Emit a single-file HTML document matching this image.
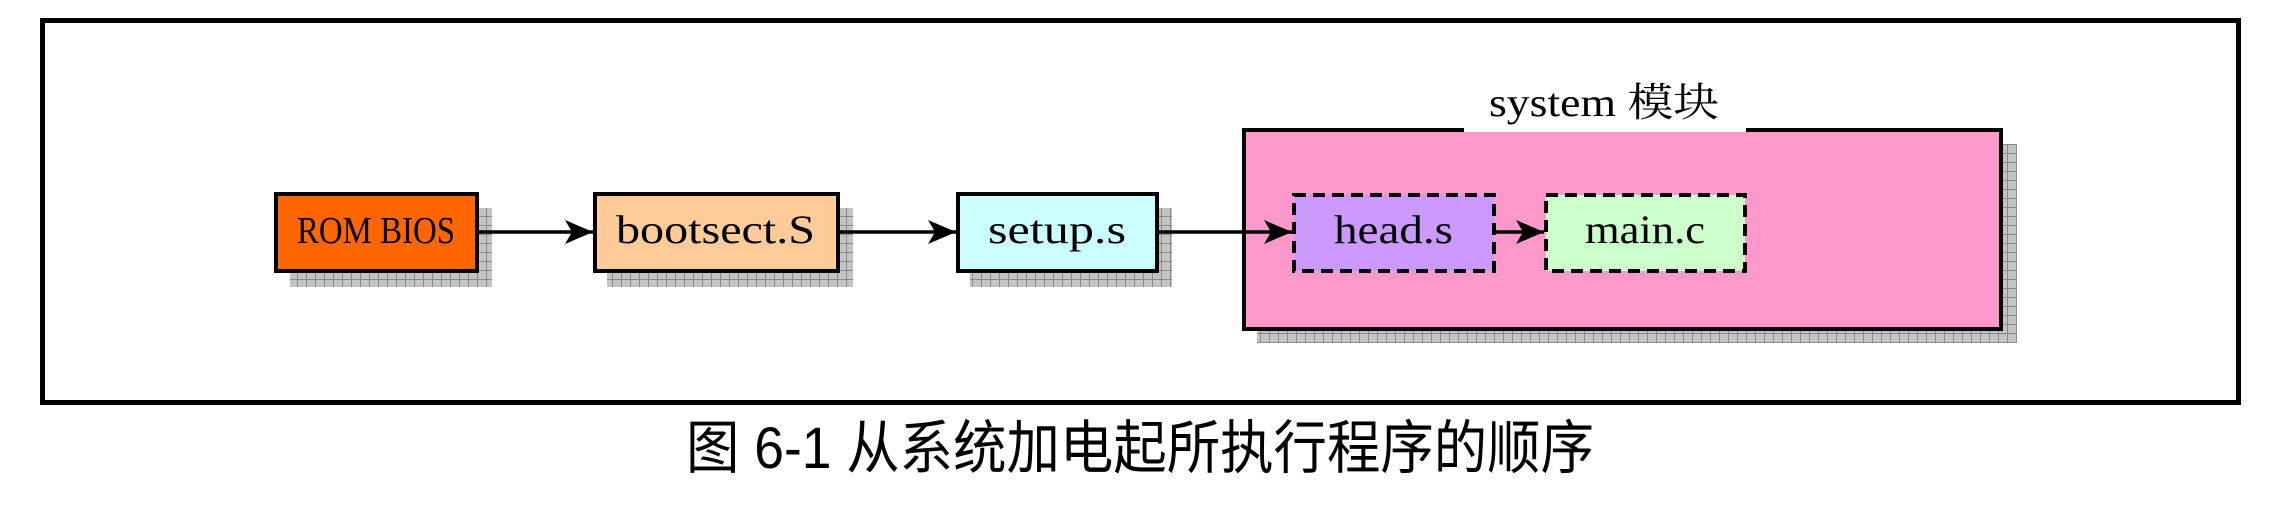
<!DOCTYPE html>
<html><head><meta charset="utf-8"><style>html,body{margin:0;padding:0;background:#fff;width:2290px;height:511px;overflow:hidden}</style></head>
<body>
<svg width="2290" height="511" xmlns="http://www.w3.org/2000/svg">
<defs>
<pattern id="sh" width="9" height="9" patternUnits="userSpaceOnUse">
<rect width="9" height="9" fill="#c4c4c4"/><path d="M0 0.5H9M0.5 0V9" stroke="#8a8a8a" stroke-width="1"/>
</pattern>
<marker id="ar" markerWidth="30" markerHeight="24" refX="28" refY="12" orient="auto" markerUnits="userSpaceOnUse">
<path d="M0 0 L28 12 L0 24 L7 12 Z" fill="#000"/>
</marker>
</defs>
<rect x="42.5" y="20.5" width="2196" height="382" fill="#fff" stroke="#000" stroke-width="5"/>
<rect x="290" y="208" width="202" height="79" fill="url(#sh)"/>
<rect x="607" y="208" width="246" height="79" fill="url(#sh)"/>
<rect x="970" y="208" width="202" height="79" fill="url(#sh)"/>
<rect x="1257" y="144" width="760" height="199" fill="url(#sh)"/>
<rect x="276" y="194" width="201" height="77" fill="#ff6600" stroke="#000" stroke-width="4"/>
<rect x="595" y="194" width="243" height="77" fill="#ffcc99" stroke="#000" stroke-width="4"/>
<rect x="958" y="194" width="199" height="77" fill="#ccffff" stroke="#000" stroke-width="4"/>
<rect x="1244" y="130" width="757" height="199" fill="#ff99cc" stroke="#000" stroke-width="4"/>
<rect x="1464" y="120" width="282" height="12" fill="#fff"/>
<rect x="1294" y="195" width="200" height="76" fill="#cc99ff" stroke="#000" stroke-width="4" stroke-dasharray="12,7"/>
<rect x="1546" y="195" width="199" height="76" fill="#ccffcc" stroke="#000" stroke-width="4" stroke-dasharray="12,7"/>
<g stroke="#000" stroke-width="3.5" fill="none">
<line x1="478" y1="232" x2="593" y2="232" marker-end="url(#ar)"/>
<line x1="839" y1="232" x2="956" y2="232" marker-end="url(#ar)"/>
<line x1="1158" y1="232" x2="1292" y2="232" marker-end="url(#ar)"/>
<line x1="1496" y1="232" x2="1544" y2="232" marker-end="url(#ar)"/>
</g>
<g font-family="'Liberation Serif','Noto Serif CJK SC',serif" font-size="40" fill="#000">
<text x="297" y="243" font-size="38" textLength="158" lengthAdjust="spacingAndGlyphs">ROM BIOS</text>
<text x="616" y="243" textLength="199" lengthAdjust="spacingAndGlyphs">bootsect.S</text>
<text x="988" y="243" textLength="138" lengthAdjust="spacingAndGlyphs">setup.s</text>
<text x="1334" y="243" textLength="119" lengthAdjust="spacingAndGlyphs">head.s</text>
<text x="1585" y="243" textLength="120" lengthAdjust="spacingAndGlyphs">main.c</text>
<text x="1489" y="116" textLength="230" lengthAdjust="spacingAndGlyphs">system 模块</text>
</g>
<text x="686" y="468" font-family="'Liberation Sans','Noto Sans CJK SC',sans-serif" font-size="58" textLength="908" lengthAdjust="spacingAndGlyphs">图 6-1 从系统加电起所执行程序的顺序</text>
</svg>
</body></html>
